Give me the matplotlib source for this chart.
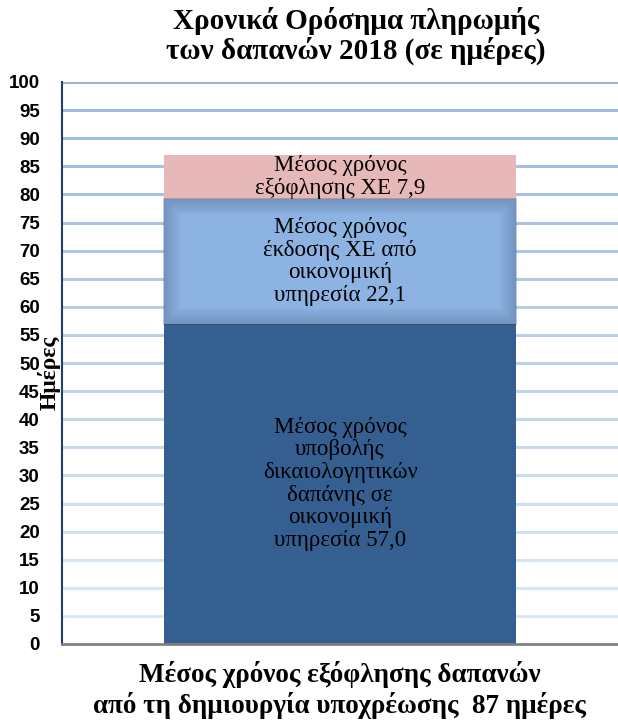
import matplotlib.pyplot as plt
import numpy as np

# Δεδομένα
κατηγορια = ["Μέσος χρόνος εξόφλησης δαπανών\nαπό τη δημιουργία υποχρέωσης  87 ημέρες"]
τιμες = [57.0, 22.1, 7.9]
ετικετες = [
    "Μέσος χρόνος\nυποβολής\nδικαιολογητικών\nδαπάνης σε\nοικονομική\nυπηρεσία 57,0",
    "Μέσος χρόνος\nέκδοσης ΧΕ από\nοικονομική\nυπηρεσία 22,1",
    "Μέσος χρόνος\nεξόφλησης ΧΕ 7,9",
]
χρωματα = ["#365F91", "#8DB3E2", "#E6B9B8"]
yticks = list(range(0, 101, 5))

fig = plt.figure(figsize=(6.18, 7.23), dpi=100)
ax = fig.add_axes([62 / 618, 1 - 644 / 723, 1 - 62 / 618, (644 - 82) / 723])

# γραμμές πλέγματος με ξεθώριασμα προς τα κάτω
top_c = np.array([0.60, 0.72, 0.88])
bot_c = np.array([0.88, 0.92, 0.97])
for v in yticks[1:]:
    t = v / 100
    c = bot_c + (top_c - bot_c) * t
    ax.axhline(v, color=c, lw=2.2, zorder=0)

x = 0
w = 0.633
bottom = 0
for i, (val, col, lab) in enumerate(zip(τιμες, χρωματα, ετικετες)):
    ax.bar(x, val, width=w, bottom=bottom, color=col, zorder=2)
    if i == 1:
        # σκιά στις άκρες του μεσαίου τμήματος
        for k in range(8):
            d = k * 0.0035
            dy = k * 0.35
            ax.bar(x, val - 2 * dy, width=w - 2 * d, bottom=bottom + dy,
                   fill=False, edgecolor="#1F3350", lw=1.2, alpha=0.3 - k * 0.035, zorder=3)
    ax.text(x, bottom + val / 2, lab, ha="center", va="center",
            fontsize=16.5, family="Liberation Serif", linespacing=1.1, zorder=4)
    bottom += val

ax.set_xlim(-0.5, 0.5)
ax.set_ylim(0, 100)
ax.set_yticks(yticks)
ax.set_yticklabels([str(v) for v in yticks], fontsize=13.5, fontweight="bold",
                   family="Liberation Sans")
ax.tick_params(axis="y", length=0, pad=16)
ax.set_xticks([])
for s in ["top", "right"]:
    ax.spines[s].set_visible(False)
ax.spines["left"].set_color("#1F3F73")
ax.spines["left"].set_linewidth(1.5)
ax.spines["bottom"].set_color("#808080")
ax.spines["bottom"].set_linewidth(2)
ax.spines["left"].set_zorder(5)
ax.spines["bottom"].set_zorder(5)

fig.text(0.576, 1 - 36 / 723, "Χρονικά Ορόσημα πληρωμής\nτων δαπανών 2018 (σε ημέρες)",
         ha="center", va="center", fontsize=21, fontweight="bold",
         family="Liberation Serif", linespacing=1.05)
fig.text(49 / 618, 1 - 373 / 723, "Ημέρες", rotation=90, ha="center", va="center",
         fontsize=17, fontweight="bold", family="Liberation Serif")
fig.text(0.55, 1 - 690 / 723, κατηγορια[0], ha="center", va="center",
         fontsize=19.5, fontweight="bold", family="Liberation Serif", linespacing=1.2)

fig.savefig("out.png", dpi=100)
